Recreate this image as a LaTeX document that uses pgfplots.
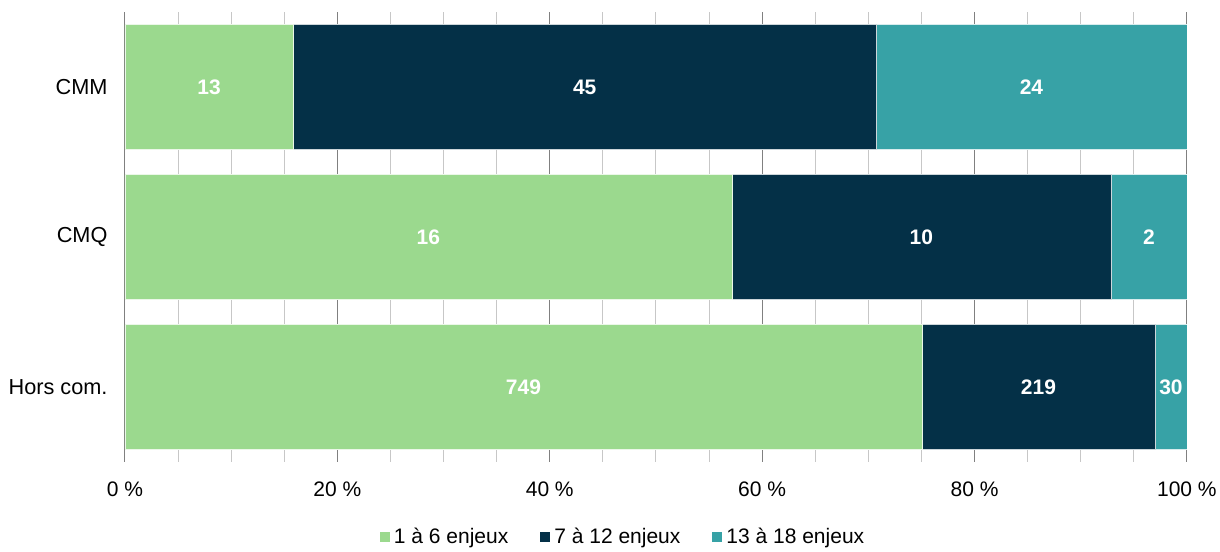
\documentclass[border=0pt]{standalone}
\usepackage{fontspec}
\setmainfont{Liberation Sans}
\usepackage{pgfplots}
\usepackage{pgfplotstable}
\pgfplotsset{compat=1.18}
\definecolor{cA}{HTML}{9BD98E}
\definecolor{cB}{HTML}{043047}
\definecolor{cC}{HTML}{37A2A6}
\pgfplotstableread{
y a b c
0 749 219 30
1 16 10 2
2 13 45 24
}\data
\pgfplotstablecreatecol[expr={\thisrow{a}+\thisrow{b}+\thisrow{c}}]{tot}\data
\pgfplotstablecreatecol[expr={100*\thisrow{a}/\thisrow{tot}}]{pa}\data
\pgfplotstablecreatecol[expr={100*\thisrow{b}/\thisrow{tot}}]{pb}\data
\pgfplotstablecreatecol[expr={100*\thisrow{c}/\thisrow{tot}}]{pc}\data
\pgfplotstablecreatecol[expr={\thisrow{pa}/2}]{ma}\data
\pgfplotstablecreatecol[expr={\thisrow{pa}+\thisrow{pb}/2}]{mb}\data
\pgfplotstablecreatecol[expr={\thisrow{pa}+\thisrow{pb}+\thisrow{pc}/2}]{mc}\data
\newcommand\fs{\fontsize{21}{25}\selectfont}
\begin{document}
\begin{tikzpicture}[x=1pt,y=1pt]
\path (-125,-86) rectangle (1095,462);
\begin{axis}[at={(0,0)},anchor=south west,
  scale only axis, width=1062pt, height=450pt,
  xbar stacked, bar width=125pt,
  xmin=0, xmax=100, ymin=-0.5, ymax=2.5,
  ytick={0,1,2}, yticklabels={Hors com.,CMQ,CMM},
  xtick={0,20,...,100}, minor xtick={5,10,...,95},
  xmajorgrids, xminorgrids,
  major grid style={draw=black!50, line width=1pt},
  minor grid style={draw=black!22, line width=1pt},
  axis line style={draw=none}, major tick length=0pt, minor tick length=0pt,
  xticklabel={\pgfmathprintnumber{\tick}~\%},
  /pgf/number format/assume math mode=true,
  tick label style={font=\fs},
  xticklabel style={yshift=-16pt},
  yticklabel style={anchor=east, xshift=-14pt, font=\fontsize{21.7}{25}\selectfont},
  legend style={at={(0.47,-0.1667)}, anchor=center, draw=none, fill=none,
    legend columns=3, font=\fs,
    /tikz/every even column/.append style={column sep=28pt},
    nodes={inner sep=4pt}},
  legend image code/.code={\fill[#1,draw=none] (0pt,-5pt) rectangle (10pt,5pt);},
]
\addplot[fill=cA, draw=white!80!cA, line width=0.6pt] table[x=pa,y=y]{\data};
\addplot[fill=cB, draw=white!80!cB, line width=0.6pt] table[x=pb,y=y]{\data};
\addplot[fill=cC, draw=white!80!cC, line width=0.6pt] table[x=pc,y=y]{\data};
\legend{1 à 6 enjeux, 7 à 12 enjeux, 13 à 18 enjeux}
\end{axis}
\begin{axis}[at={(0,0)},anchor=south west,
  scale only axis, width=1062pt, height=450pt,
  xmin=0, xmax=100, ymin=-0.5, ymax=2.5, hide axis,
  nodes near coords, point meta=explicit symbolic,
  every node near coord/.append style={anchor=center, text=white, font=\fs\bfseries},
]
\addplot[draw=none, mark=none] table[x=ma,y=y,meta=a]{\data};
\addplot[draw=none, mark=none] table[x=mb,y=y,meta=b]{\data};
\addplot[draw=none, mark=none] table[x=mc,y=y,meta=c]{\data};
\end{axis}
\end{tikzpicture}
\end{document}
